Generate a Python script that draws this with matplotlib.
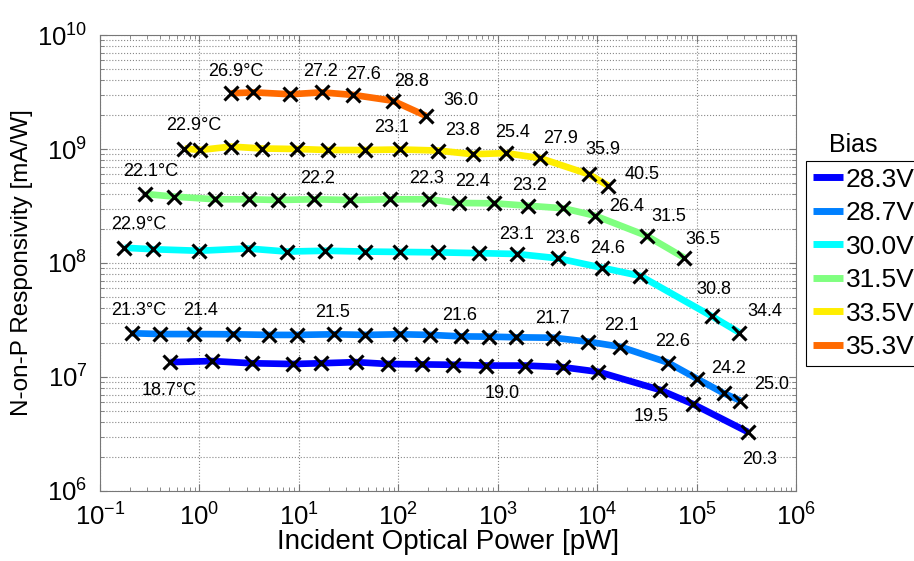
import numpy as np
import matplotlib.pyplot as plt

plt.rcParams['font.family'] = ['Liberation Sans', 'DejaVu Sans']
plt.rcParams['mathtext.fontset'] = 'custom'
plt.rcParams['mathtext.rm'] = 'Liberation Sans'
plt.rcParams['mathtext.it'] = 'Liberation Sans'

# Bias voltages (legend entries)
biases = ['28.3V', '28.7V', '30.0V', '31.5V', '33.5V', '35.3V']

# Incident optical power [pW] and responsivity [mA/W] per bias
p_283 = [0.511, 1.33, 3.36, 8.68, 16.7, 37.7, 79.6, 172, 353, 764, 1887,
         4506, 10300, 43000, 91500, 327000]
r_283 = [1.35e7, 1.38e7, 1.32e7, 1.30e7, 1.32e7, 1.35e7, 1.30e7, 1.29e7,
         1.28e7, 1.26e7, 1.26e7, 1.22e7, 1.11e7, 7.7e6, 5.8e6, 3.3e6]

p_287 = [0.210, 0.405, 0.891, 2.20, 4.98, 9.61, 22.8, 46.7, 104, 210, 432,
         825, 1531, 3634, 8172, 17150, 51270, 100300, 187500, 276100]
r_287 = [2.42e7, 2.38e7, 2.38e7, 2.37e7, 2.34e7, 2.34e7, 2.37e7, 2.34e7,
         2.37e7, 2.34e7, 2.27e7, 2.26e7, 2.23e7, 2.21e7, 2.04e7, 1.84e7,
         1.34e7, 9.7e6, 7.2e6, 6.2e6]

p_300 = [0.176, 0.345, 1.0, 3.06, 7.55, 18.4, 46.0, 105, 250, 644, 1553,
         4013, 11120, 27240, 143400, 269800]
r_300 = [1.36e8, 1.32e8, 1.28e8, 1.34e8, 1.26e8, 1.28e8, 1.26e8, 1.25e8,
         1.24e8, 1.22e8, 1.20e8, 1.10e8, 9.1e7, 7.7e7, 3.4e7, 2.45e7]

p_315 = [0.286, 0.561, 1.448, 3.18, 6.13, 14.3, 33.0, 83.4, 205.7, 405, 912,
         2004, 4580, 9544, 31520, 75480]
r_315 = [4.03e8, 3.82e8, 3.62e8, 3.62e8, 3.57e8, 3.62e8, 3.57e8, 3.62e8,
         3.62e8, 3.36e8, 3.34e8, 3.18e8, 3.02e8, 2.60e8, 1.73e8, 1.11e8]

p_335 = [0.707, 1.02, 2.08, 4.27, 9.52, 19.5, 46.7, 104.3, 249, 561, 1215,
         2690, 8230, 12980]
r_335 = [1.01e9, 9.8e8, 1.05e9, 1.01e9, 1.0e9, 9.8e8, 9.8e8, 9.9e8, 9.7e8,
         9.0e8, 9.2e8, 8.3e8, 6.0e8, 4.76e8]

p_353 = [2.08, 3.49, 8.23, 17.0, 35.4, 87.9, 190.5]
r_353 = [3.08e9, 3.14e9, 3.02e9, 3.14e9, 2.98e9, 2.65e9, 1.95e9]

# Device temperature readings, keyed by point index
temp_idx_283 = [0, 9, 13, 15]
temps_283 = ['18.7°C', '19.0', '19.5', '20.3']
temp_idx_287 = [0, 2, 6, 10, 13, 15, 16, 17, 19]
temps_287 = ['21.3°C', '21.4', '21.5', '21.6', '21.7', '22.1', '22.6', '24.2', '25.0']
temp_idx_300 = [0, 10, 11, 12, 14, 15]
temps_300 = ['22.9°C', '23.1', '23.6', '24.6', '30.8', '34.4']
temp_idx_315 = [0, 5, 8, 9, 11, 13, 14, 15]
temps_315 = ['22.1°C', '22.2', '22.3', '22.4', '23.2', '26.4', '31.5', '36.5']
temp_idx_335 = [0, 7, 9, 10, 11, 12, 13]
temps_335 = ['22.9°C', '23.1', '23.8', '25.4', '27.9', '35.9', '40.5']
temp_idx_353 = [0, 3, 4, 5, 6]
temps_353 = ['26.9°C', '27.2', '27.6', '28.8', '36.0']

series = [
    (p_283, r_283, temp_idx_283, temps_283),
    (p_287, r_287, temp_idx_287, temps_287),
    (p_300, r_300, temp_idx_300, temps_300),
    (p_315, r_315, temp_idx_315, temps_315),
    (p_335, r_335, temp_idx_335, temps_335),
    (p_353, r_353, temp_idx_353, temps_353),
]
colors = ['#0000FF', '#0080FF', '#00FFFF', '#80FF80', '#FFEE00', '#FF6A00']

# label offsets in pixels (x right, y up)
offsets = [
    [(-1, -28), (16, -28), (-9, -27), (12, -28)],
    [(7, 23), (6, 24), (-2, 22), (-2, 21), (-1, 19), (1, 21), (5, 21), (32, 10), (31, 16)],
    [(14, 23), (0, 19), (5, 20), (6, 19), (2, 27), (25, 21)],
    [(5, 22), (3, 21), (-3, 21), (14, 21), (2, 20), (31, 9), (22, 19), (18, 18)],
    [(9, 23), (-9, 22), (-10, 24), (6, 21), (20, 20), (14, 25), (34, 11)],
    [(5, 22), (-1, 21), (10, 20), (19, 19), (35, 15)],
]

fig = plt.figure(figsize=(9.14, 5.61), dpi=100)
ax = fig.add_axes([100 / 914, 1 - 491 / 561, 696 / 914, 456 / 561])

handles = []
for (p, r, idx, temps), c, offs, name in zip(series, colors, offsets, biases):
    h, = ax.plot(p, r, '-', color=c, lw=4.8, solid_capstyle='butt', label=name, zorder=3)
    ax.plot(p, r, 'x', color='black', ms=9.5, mew=2.2, zorder=4)
    handles.append(h)
    for i, t, (dx, dy) in zip(idx, temps, offs):
        ax.annotate(t, (p[i], r[i]), xytext=(dx, dy), textcoords='offset pixels',
                    ha='center', va='center', fontsize=13, zorder=5)

ax.set_xscale('log')
ax.set_yscale('log')
ax.set_xlim(1e-1, 1e6)
ax.set_ylim(1e6, 1e10)
ax.xaxis.set_minor_locator(plt.LogLocator(base=10, subs=np.arange(2, 10), numticks=20))
ax.yaxis.set_minor_locator(plt.LogLocator(base=10, subs=np.arange(2, 10), numticks=20))
ax.xaxis.set_minor_formatter(plt.NullFormatter())
ax.yaxis.set_minor_formatter(plt.NullFormatter())

ax.grid(True, which='major', axis='both', ls=':', color='#888888', lw=0.8)
ax.grid(True, which='minor', axis='y', ls=':', color='#888888', lw=0.8)
ax.tick_params(which='both', direction='in', top=True, right=True, color='#777777')
ax.tick_params(which='major', length=5, labelsize=18.5, pad=9)
ax.tick_params(which='minor', length=3)
for s in ax.spines.values():
    s.set_color('#777777')

ax.set_xlabel('Incident Optical Power [pW]', fontsize=20, labelpad=-1)
ax.set_ylabel('N-on-P Responsivity [mA/W]', fontsize=17.5, labelpad=3)

leg = fig.legend(handles=handles, loc='upper left', bbox_to_anchor=(806 / 914, 1 - 161 / 561),
                 fontsize=19, frameon=True, fancybox=False, framealpha=1, edgecolor='black',
                 handlelength=1.15, handletextpad=0.1, borderpad=0.25, labelspacing=0.36,
                 borderaxespad=0)
leg.get_frame().set_linewidth(0.8)
for lh in leg.get_lines():
    lh.set_linewidth(5)
fig.text(853 / 914, 1 - 145 / 561, 'Bias', fontsize=18, ha='center', va='center')

fig.savefig('out.png', dpi=100)
